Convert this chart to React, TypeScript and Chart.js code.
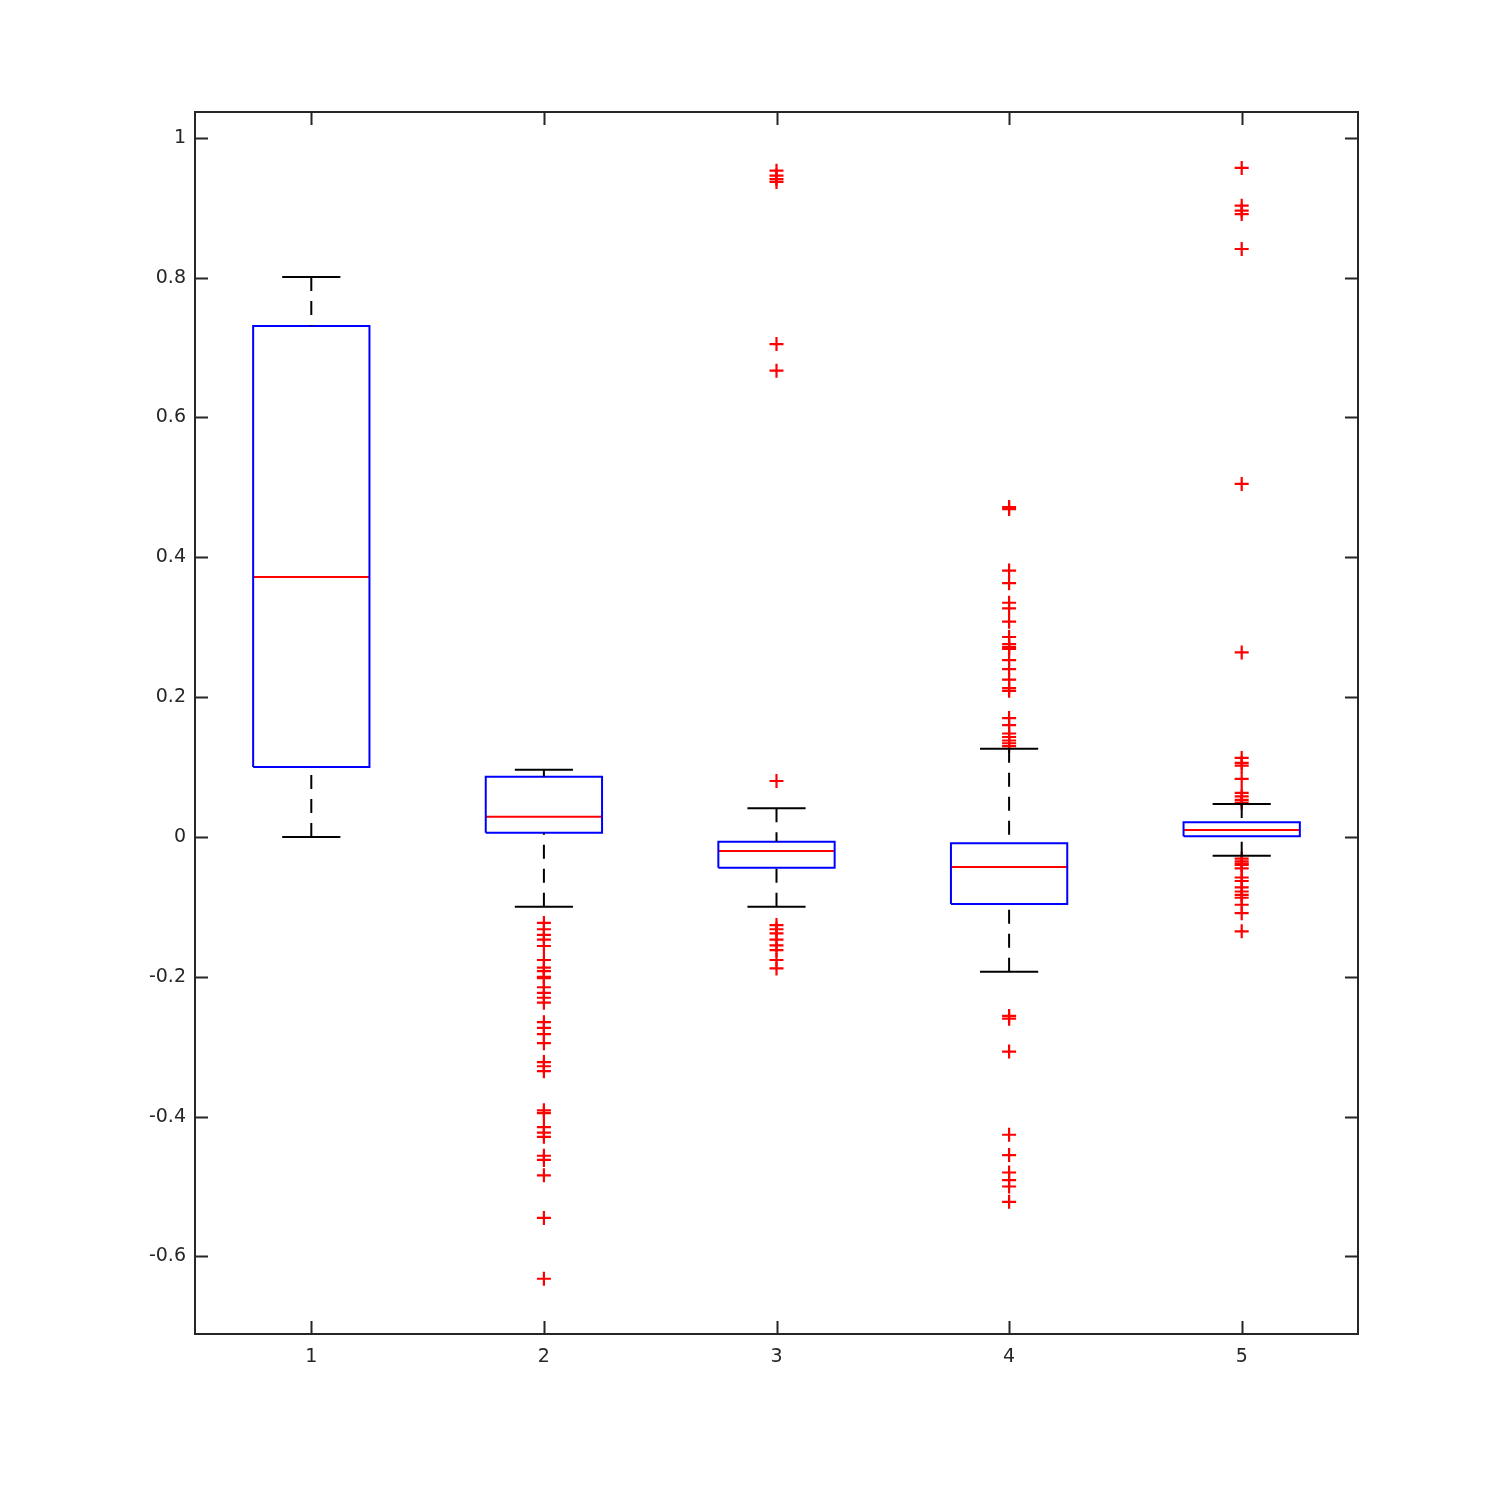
import React, { useEffect, useRef } from "react";
import { Chart, registerables } from "chart.js";

Chart.register(...registerables);

const categories = ["1", "2", "3", "4", "5"];
const positions = [1, 2, 3, 4, 5];
const q1 = [0.1, 0.006, -0.044, -0.096, 0.001];
const median = [0.372, 0.029, -0.02, -0.043, 0.01];
const q3 = [0.731, 0.086, -0.007, -0.009, 0.021];
const whiskerLow = [0.0, -0.1, -0.1, -0.193, -0.027];
const whiskerHigh = [0.801, 0.096, 0.041, 0.126, 0.047];

const outliers1: number[] = [];
const outliers2 = [
  -0.123, -0.132, -0.14, -0.147, -0.156, -0.176, -0.187, -0.192, -0.2, -0.202,
  -0.215, -0.223, -0.23, -0.237, -0.265, -0.273, -0.282, -0.295, -0.322, -0.328,
  -0.335, -0.391, -0.395, -0.415, -0.423, -0.429, -0.456, -0.462, -0.484, -0.545,
  -0.632,
];
const outliers3 = [
  0.953, 0.946, 0.941, 0.937, 0.705, 0.667, 0.08, -0.126, -0.132, -0.138, -0.147,
  -0.155, -0.162, -0.176, -0.188,
];
const outliers4 = [
  0.469, 0.472, 0.381, 0.363, 0.335, 0.327, 0.308, 0.286, 0.276, 0.272, 0.269,
  0.253, 0.24, 0.225, 0.213, 0.209, 0.17, 0.16, 0.148, 0.143, 0.138, 0.134,
  0.13, -0.256, -0.26, -0.307, -0.426, -0.455, -0.48, -0.491, -0.5, -0.522,
];
const outliers5 = [
  0.957, 0.903, 0.896, 0.891, 0.841, 0.505, 0.264, 0.113, 0.106, 0.102, 0.083,
  0.063, 0.058, 0.053, 0.049, -0.031, -0.035, -0.038, -0.04, -0.045, -0.058,
  -0.063, -0.072, -0.078, -0.083, -0.087, -0.097, -0.109, -0.135,
];
const outliers = [outliers1, outliers2, outliers3, outliers4, outliers5];

const yTickValues = [-0.6, -0.4, -0.2, 0, 0.2, 0.4, 0.6, 0.8, 1];
const xTickValues = positions;

const BOX_HALF = 0.25;
const CAP_HALF = 0.125;
const AXIS_COLOR = "#262626";
const FONT = "'DejaVu Sans', sans-serif";

type Pt = { x: number; y: number | null };

function buildBoxes(): Pt[] {
  const pts: Pt[] = [];
  positions.forEach((p, i) => {
    pts.push({ x: p - BOX_HALF, y: q1[i] });
    pts.push({ x: p + BOX_HALF, y: q1[i] });
    pts.push({ x: p + BOX_HALF, y: q3[i] });
    pts.push({ x: p - BOX_HALF, y: q3[i] });
    pts.push({ x: p - BOX_HALF, y: q1[i] });
    pts.push({ x: p, y: null });
  });
  return pts;
}
function buildMedians(): Pt[] {
  const pts: Pt[] = [];
  positions.forEach((p, i) => {
    pts.push({ x: p - BOX_HALF, y: median[i] });
    pts.push({ x: p + BOX_HALF, y: median[i] });
    pts.push({ x: p, y: null });
  });
  return pts;
}
function buildWhiskers(): Pt[] {
  const pts: Pt[] = [];
  positions.forEach((p, i) => {
    pts.push({ x: p, y: whiskerHigh[i] });
    pts.push({ x: p, y: q3[i] });
    pts.push({ x: p, y: null });
    pts.push({ x: p, y: whiskerLow[i] });
    pts.push({ x: p, y: q1[i] });
    pts.push({ x: p, y: null });
  });
  return pts;
}
function buildCaps(): Pt[] {
  const pts: Pt[] = [];
  positions.forEach((p, i) => {
    pts.push({ x: p - CAP_HALF, y: whiskerHigh[i] });
    pts.push({ x: p + CAP_HALF, y: whiskerHigh[i] });
    pts.push({ x: p, y: null });
    pts.push({ x: p - CAP_HALF, y: whiskerLow[i] });
    pts.push({ x: p + CAP_HALF, y: whiskerLow[i] });
    pts.push({ x: p, y: null });
  });
  return pts;
}
function buildOutliers(): Pt[] {
  const pts: Pt[] = [];
  positions.forEach((p, i) => {
    outliers[i].forEach((v) => pts.push({ x: p, y: v }));
  });
  return pts;
}

const frameAndTicks = {
  id: "frameAndTicks",
  afterDraw(chart: any) {
    const { ctx, chartArea, scales } = chart;
    const { left, right, top, bottom } = chartArea;
    const len = 13;
    ctx.save();
    ctx.strokeStyle = AXIS_COLOR;
    ctx.lineWidth = 2;
    ctx.beginPath();
    ctx.rect(left, top, right - left, bottom - top);
    ctx.stroke();
    ctx.beginPath();
    yTickValues.forEach((v) => {
      const y = Math.round(scales.y.getPixelForValue(v)) + 0.5;
      ctx.moveTo(left, y);
      ctx.lineTo(left + len, y);
      ctx.moveTo(right, y);
      ctx.lineTo(right - len, y);
    });
    xTickValues.forEach((v) => {
      const x = Math.round(scales.x.getPixelForValue(v)) + 0.5;
      ctx.moveTo(x, bottom);
      ctx.lineTo(x, bottom - len);
      ctx.moveTo(x, top);
      ctx.lineTo(x, top + len);
    });
    ctx.stroke();
    ctx.restore();
  },
};

export default function App() {
  const ref = useRef<HTMLCanvasElement | null>(null);
  useEffect(() => {
    if (!ref.current) return;
    const chart = new Chart(ref.current, {
      type: "scatter",
      data: {
        datasets: [
          {
            label: "whiskers",
            data: buildWhiskers() as any,
            showLine: true,
            spanGaps: false,
            borderColor: "#000000",
            borderWidth: 2,
            borderDash: [14, 10],
            pointRadius: 0,
            fill: false,
          },
          {
            label: "caps",
            data: buildCaps() as any,
            showLine: true,
            spanGaps: false,
            borderColor: "#000000",
            borderWidth: 2,
            pointRadius: 0,
            fill: false,
          },
          {
            label: "boxes",
            data: buildBoxes() as any,
            showLine: true,
            spanGaps: false,
            borderColor: "#0000ff",
            borderWidth: 2,
            pointRadius: 0,
            fill: false,
          },
          {
            label: "medians",
            data: buildMedians() as any,
            showLine: true,
            spanGaps: false,
            borderColor: "#ff0000",
            borderWidth: 2,
            pointRadius: 0,
            fill: false,
          },
          {
            label: "outliers",
            data: buildOutliers() as any,
            showLine: false,
            pointStyle: "cross",
            pointRadius: 7,
            pointBorderWidth: 2.2,
            borderColor: "#ff0000",
            backgroundColor: "#ff0000",
          },
        ],
      },
      options: {
        responsive: false,
        animation: false,
        events: [],
        layout: { padding: { left: 0, top: 112, right: 142, bottom: 0 } },
        plugins: {
          legend: { display: false },
          tooltip: { enabled: false },
        },
        scales: {
          x: {
            type: "linear",
            min: 0.5,
            max: 5.5,
            afterFit: (s: any) => {
              s.height = 166;
            },
            afterBuildTicks: (s: any) => {
              s.ticks = xTickValues.map((v) => ({ value: v }));
            },
            border: { display: false },
            grid: { display: false, drawTicks: false },
            ticks: {
              padding: 12,
              color: AXIS_COLOR,
              font: { family: FONT, size: 19 },
              callback: (v: any) => categories[positions.indexOf(Number(v))] ?? "",
            },
          },
          y: {
            type: "linear",
            min: -0.711,
            max: 1.037,
            afterFit: (s: any) => {
              s.width = 195;
            },
            afterBuildTicks: (s: any) => {
              s.ticks = yTickValues.map((v) => ({ value: v }));
            },
            border: { display: false },
            grid: { display: false, drawTicks: false },
            ticks: {
              padding: 9,
              color: AXIS_COLOR,
              font: { family: FONT, size: 19 },
              callback: (v: any) => String(Number(Number(v).toFixed(1))),
            },
          },
        },
      },
      plugins: [frameAndTicks],
    });
    return () => chart.destroy();
  }, []);
  return (
    <div style={{ position: "fixed", left: 0, top: 0, width: 1500, height: 1500, background: "#ffffff" }}>
      <canvas ref={ref} width={1500} height={1500} style={{ width: 1500, height: 1500, display: "block" }} />
    </div>
  );
}
